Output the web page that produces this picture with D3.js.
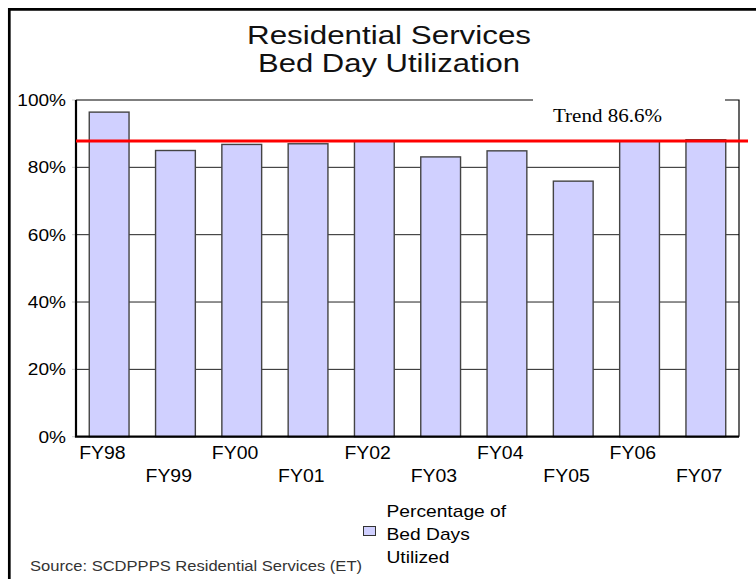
<!DOCTYPE html>
<html>
<head>
<meta charset="utf-8">
<script src="https://cdn.jsdelivr.net/npm/d3@7"></script>
<style>
  html, body { margin: 0; padding: 0; background: #fff; }
  svg { display: block; }
  text { font-family: "Liberation Sans", Arial, sans-serif; }
  text.serif { font-family: "Liberation Serif", "Times New Roman", serif; }
</style>
</head>
<body>
<svg id="chart" width="756" height="579"></svg>
<script>
// ---- data ----
const categories = ["FY98","FY99","FY00","FY01","FY02","FY03","FY04","FY05","FY06","FY07"];
const utilization = [96.4, 85.0, 86.8, 87.0, 87.8, 83.1, 84.9, 75.9, 87.8, 88.2];
const yTicks = [0, 20, 40, 60, 80, 100];
const yTickLabels = ["0%", "20%", "40%", "60%", "80%", "100%"];
const trendValue = 87.8;
const trendLabel = "Trend 86.6%";
const titleLines = ["Residential Services", "Bed Day Utilization"];
const legendLines = ["Percentage of", "Bed Days", "Utilized"];
const sourceText = "Source:  SCDPPPS Residential Services (ET)";

// ---- layout ----
const svg = d3.select("#chart");
const plot = { left: 76, right: 739, top: 100, bottom: 436.7 };

const x = d3.scaleBand().domain(categories).range([plot.left, plot.right])
  .paddingInner(0.4).paddingOuter(0.2);
const y = d3.scaleLinear().domain([0, 100]).range([plot.bottom, plot.top]);

function stretch(sel, factor) {
  sel.each(function () {
    const w = this.getComputedTextLength();
    this.setAttribute("textLength", w * factor);
    this.setAttribute("lengthAdjust", "spacingAndGlyphs");
  });
}

// outer frame
svg.append("path")
  .attr("d", "M9.3,579 V9.3 H756")
  .attr("fill", "none").attr("stroke", "#000").attr("stroke-width", 2.7);

// title
const titleWidths = [284, 262];
titleLines.forEach((t, i) => {
  svg.append("text")
    .attr("x", 389).attr("y", 44 + i * 28)
    .attr("text-anchor", "middle")
    .attr("font-size", 26).attr("fill", "#111")
    .attr("textLength", titleWidths[i]).attr("lengthAdjust", "spacingAndGlyphs")
    .text(t);
});

// gridlines
svg.append("g").selectAll("line")
  .data(yTicks.filter(d => d > 0 && d < 100))
  .join("line")
  .attr("x1", plot.left).attr("x2", plot.right)
  .attr("y1", d => y(d)).attr("y2", d => y(d))
  .attr("stroke", "#222").attr("stroke-width", 1);

// small tick marks on left
svg.append("g").selectAll("line")
  .data(yTicks)
  .join("line")
  .attr("x1", plot.left - 4).attr("x2", plot.left)
  .attr("y1", d => y(d)).attr("y2", d => y(d))
  .attr("stroke", "#ccc").attr("stroke-width", 1);

// plot border top and right
svg.append("path")
  .attr("d", `M${plot.left},${y(100)} H${plot.right} V${plot.bottom}`)
  .attr("fill", "none").attr("stroke", "#000").attr("stroke-width", 1.2);

// bars
svg.append("g").selectAll("rect")
  .data(categories.map((c, i) => ({ c, v: utilization[i] })))
  .join("rect")
  .attr("x", d => x(d.c))
  .attr("y", d => y(d.v))
  .attr("width", x.bandwidth())
  .attr("height", d => y(0) - y(d.v))
  .attr("fill", "#d0d0ff")
  .attr("stroke", "#444").attr("stroke-width", 1.4);

// left and bottom axes (thick)
svg.append("path")
  .attr("d", `M${plot.left},${y(100)} V${plot.bottom} H${plot.right}`)
  .attr("fill", "none").attr("stroke", "#000").attr("stroke-width", 2.2);

// trend label box (white, hides top border)
svg.append("rect")
  .attr("x", 533).attr("y", 88).attr("width", 192).attr("height", 49)
  .attr("fill", "#fff");
svg.append("text")
  .attr("class", "serif")
  .attr("x", 553).attr("y", 122)
  .attr("font-size", 18).attr("fill", "#000")
  .attr("textLength", 109).attr("lengthAdjust", "spacingAndGlyphs")
  .text(trendLabel);

// trend line
svg.append("line")
  .attr("x1", plot.left).attr("x2", 748)
  .attr("y1", y(trendValue)).attr("y2", y(trendValue))
  .attr("stroke", "#ff0000").attr("stroke-width", 3);

// y labels
const yl = svg.append("g").selectAll("text")
  .data(yTicks)
  .join("text")
  .attr("x", 66).attr("y", d => y(d) + 6)
  .attr("text-anchor", "end")
  .attr("font-size", 17).attr("fill", "#000")
  .text((d, i) => yTickLabels[i]);
stretch(yl, 1.12);

// x labels (staggered)
const xl = svg.append("g").selectAll("text")
  .data(categories)
  .join("text")
  .attr("x", d => x(d) + x.bandwidth() / 2 - 6.7)
  .attr("y", (d, i) => i % 2 === 0 ? 459.3 : 481.7)
  .attr("text-anchor", "middle")
  .attr("font-size", 17.5).attr("fill", "#000")
  .text(d => d);
stretch(xl, 1.11);

// legend
svg.append("rect")
  .attr("x", 363.5).attr("y", 526.5).attr("width", 12).attr("height", 9)
  .attr("fill", "#d0d0ff").attr("stroke", "#333").attr("stroke-width", 1);
const lg = svg.append("g").selectAll("text")
  .data(legendLines)
  .join("text")
  .attr("x", 386.5).attr("y", (d, i) => 517.3 + i * 23)
  .attr("font-size", 17).attr("fill", "#000")
  .text(d => d);
stretch(lg, 1.13);

// source
svg.append("text")
  .attr("x", 30).attr("y", 570.5)
  .attr("font-size", 15).attr("fill", "#333")
  .attr("textLength", 332).attr("lengthAdjust", "spacingAndGlyphs")
  .text(sourceText);
</script>
</body>
</html>
